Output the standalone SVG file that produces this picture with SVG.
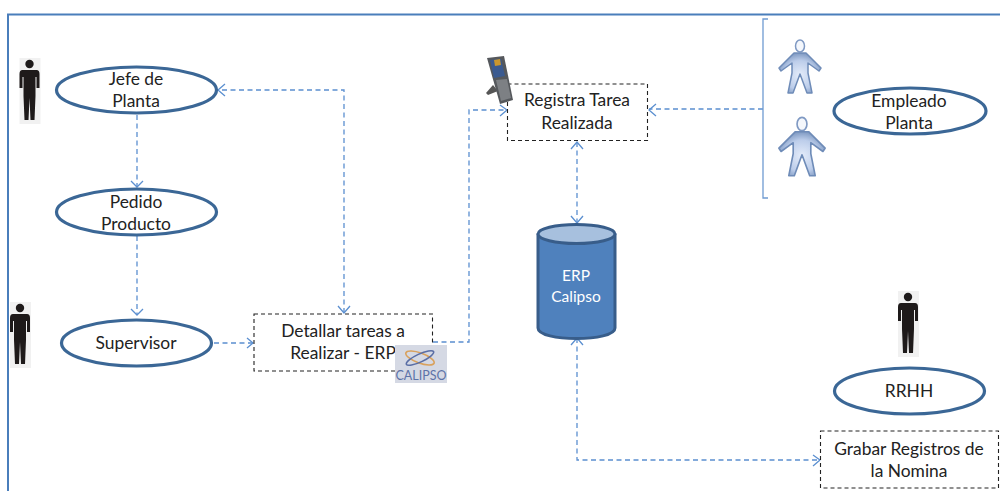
<svg xmlns="http://www.w3.org/2000/svg" width="1000" height="491" viewBox="0 0 1000 491">
<style>
text{font-family:Lato,"Liberation Sans",sans-serif;font-size:17.400px;fill:#222;text-anchor:middle}
.el{fill:#fff;stroke:#3b6796;stroke-width:3.2}
.box{fill:#fff;stroke:#222;stroke-width:1.1;stroke-dasharray:4 3}
.c{fill:none;stroke:#5b8fd0;stroke-width:1.3;stroke-dasharray:5 3.5}
.h{fill:none;stroke:#5b8fd0;stroke-width:1.3}
</style>
<defs>
<radialGradient id="bodyFill" cx="0.5" cy="0.55" r="0.6"><stop offset="0" stop-color="#e4ecfa"/><stop offset="0.6" stop-color="#bccdea"/><stop offset="1" stop-color="#6f8cb8"/></radialGradient>
<g id="man">
<rect x="-10" y="-32" width="21" height="66" fill="#f1f1f1"/>
<circle cx="0" cy="-26" r="4.200" fill="#1e1a1a"/>
<path d="M-7-20H7Q10-20 10-16V-2H7V-13H6V6L5 30H1L0 8L-1 30H-5L-6 6V-13H-7V-2H-10V-16Q-10-20-7-20Z" fill="#1e1a1a"/>
</g>
<g id="fig">
<ellipse cx="0" cy="-20" rx="4.500" ry="6" fill="#f4f7fc" stroke="#7f99c3" stroke-width="1.500"/>
<path d="M-6-13H6L21 2L19 5L8-3V7L12 27H7L0 8L-7 27H-12L-8 7V-3L-19 5L-21 2Z" fill="url(#bodyFill)" stroke="#6f8cb8" stroke-width="1.500" stroke-linejoin="round"/>
</g>
</defs>
<path d="M8 491V14.500H1000" fill="none" stroke="#4a7ebb" stroke-width="2"/>
<g id="connectors">
<path class="c" d="M137 115V187"/><path class="h" d="M131 181L137 187L143 181"/>
<path class="c" d="M137 236V315"/><path class="h" d="M131 309L137 315L143 309"/>
<path class="c" d="M344 313V90H218"/><path class="h" d="M225 84L218 90L225 96"/><path class="h" d="M338 306L344 313L350 306"/>
<path class="c" d="M214 343H253"/><path class="h" d="M247 338L253 343L247 348"/>
<path class="c" d="M433 342H469V110H507"/><path class="h" d="M500 105L507 110L500 116"/>
<path class="c" d="M763 109H649"/><path class="h" d="M656 104L649 110L656 116"/>
<path class="c" d="M577 142V223"/><path class="h" d="M571 149L577 142L583 149"/><path class="h" d="M571 216L577 223L583 216"/>
<path class="c" d="M577 338V460H820"/><path class="h" d="M571 345L577 338L583 345"/><path class="h" d="M813 455L820 460L813 466"/>
<path d="M768 19H763V198H768" fill="none" stroke="#6f9bd1" stroke-width="1.300"/>
</g>
<g id="jefe-icon"><use href="#man" x="29.500" y="90"/></g>
<g id="supervisor-icon"><use href="#man" x="20" y="334"/></g>
<g id="rrhh-icon"><use href="#man" x="908" y="323"/></g>
<g id="empleado-icon-1"><use href="#fig" x="800" y="66"/></g>
<g id="empleado-icon-2"><use href="#fig" transform="translate(802 146) scale(1.100)"/></g>
<g id="jefe"><ellipse class="el" cx="136.500" cy="90" rx="80" ry="23"/><text x="136" y="85">Jefe de</text><text x="136" y="107">Planta</text></g>
<g id="pedido"><ellipse class="el" cx="136.500" cy="212" rx="80" ry="23"/><text x="136" y="208">Pedido</text><text x="136" y="230">Producto</text></g>
<g id="supervisor"><ellipse class="el" cx="136.500" cy="343" rx="75" ry="23"/><text x="136" y="349">Supervisor</text></g>
<g id="detallar"><rect class="box" x="254" y="314" width="178.500" height="57"/><text x="343" y="337">Detallar tareas a</text><text x="343" y="359">Realizar - ERP</text>
<rect x="395" y="345" width="52" height="38" fill="#d5d9e4"/>
<ellipse cx="420" cy="358" rx="15" ry="5" fill="none" stroke="#d9a15c" stroke-width="1.600" transform="rotate(20 420 358)"/>
<ellipse cx="420" cy="358" rx="15" ry="4" fill="none" stroke="#5a6ea5" stroke-width="1.600" transform="rotate(-25 420 358)"/>
<text x="421" y="380" style="font-size:12.500px;fill:#5d73a8">CALIPSO</text></g>
<g id="registra"><rect class="box" x="507.500" y="84" width="140" height="56.500"/><text x="577" y="106">Registra Tarea</text><text x="577" y="129">Realizada</text>
<path d="M493 85L486 93L488 95L498 91Z" fill="#555"/>
<path d="M487 58L504 56L513 100L500 104Z" fill="#55585c"/>
<path d="M490 60L501 59L505 76L494 78Z" fill="#3a5a90"/>
<path d="M494 60L500 59L501 65L495 66Z" fill="#c9962e"/>
<path d="M496 80L507 79L511 98L501 101Z" fill="#7d8084"/></g>
<g id="erp"><path d="M538 235V328C538 342 615 342 615 328V235Z" fill="#4f81bd" stroke="#385d8a" stroke-width="3"/><ellipse cx="576.500" cy="234" rx="38.500" ry="9.500" fill="#a7c0de" stroke="#385d8a" stroke-width="3"/><text x="576" y="281" style="fill:#fff;font-size:15.500px">ERP</text><text x="576" y="302" style="fill:#fff;font-size:15.500px">Calipso</text></g>
<g id="empleado"><ellipse class="el" cx="910" cy="111" rx="76" ry="23"/><text x="909" y="107">Empleado</text><text x="909" y="129">Planta</text></g>
<g id="rrhh"><ellipse class="el" cx="909.500" cy="391" rx="75" ry="23"/><text x="909" y="397">RRHH</text></g>
<g id="grabar"><rect class="box" x="820.500" y="431" width="178" height="57"/><text x="909" y="455">Grabar Registros de</text><text x="909" y="477">la Nomina</text></g>
</svg>
